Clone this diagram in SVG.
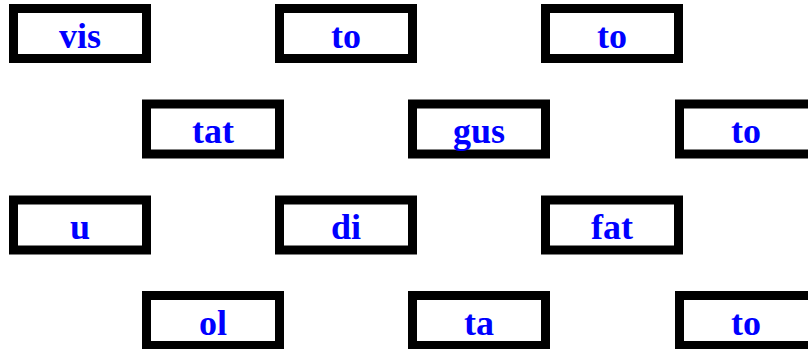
<svg xmlns="http://www.w3.org/2000/svg" width="808" height="349" viewBox="0 0 808 349">
<style>
.box{fill:#fff;stroke:#000;stroke-width:9}
.lbl{font-family:"Liberation Serif","Times New Roman",serif;font-weight:bold;font-size:36px;fill:#0000ff;text-anchor:middle}
</style>
<rect width="808" height="349" fill="#fff"/>
<g id="connectors"/>
<g id="n1"><rect class="box" x="13.5" y="8.5" width="133" height="50"/><text class="lbl" x="80" y="48">vis</text></g>
<g id="n2"><rect class="box" x="279.5" y="8.5" width="133" height="50"/><text class="lbl" x="346" y="48">to</text></g>
<g id="n3"><rect class="box" x="545.5" y="8.5" width="133" height="50"/><text class="lbl" x="612" y="48">to</text></g>
<g id="n4"><rect class="box" x="146.5" y="104" width="133" height="50"/><text class="lbl" x="213" y="143">tat</text></g>
<g id="n5"><rect class="box" x="412.5" y="104" width="133" height="50"/><text class="lbl" x="479" y="143">gus</text></g>
<g id="n6"><rect class="box" x="679.5" y="104" width="133" height="50"/><text class="lbl" x="746" y="143">to</text></g>
<g id="n7"><rect class="box" x="13.5" y="200" width="133" height="50"/><text class="lbl" x="80" y="239">u</text></g>
<g id="n8"><rect class="box" x="279.5" y="200" width="133" height="50"/><text class="lbl" x="346" y="239">di</text></g>
<g id="n9"><rect class="box" x="545.5" y="200" width="133" height="50"/><text class="lbl" x="612" y="239">fat</text></g>
<g id="n10"><rect class="box" x="146.5" y="295.5" width="133" height="50"/><text class="lbl" x="213" y="335">ol</text></g>
<g id="n11"><rect class="box" x="412.5" y="295.5" width="133" height="50"/><text class="lbl" x="479" y="335">ta</text></g>
<g id="n12"><rect class="box" x="679.5" y="295.5" width="133" height="50"/><text class="lbl" x="746" y="335">to</text></g>
</svg>
